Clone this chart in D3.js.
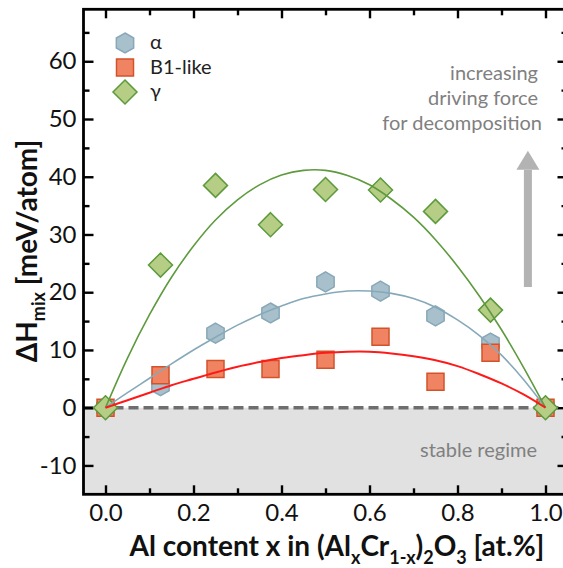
<!DOCTYPE html>
<html>
<head>
<meta charset="utf-8">
<script src="https://cdn.jsdelivr.net/npm/d3@7"></script>
<style>
  body { margin: 0; background: #fff; }
  svg { display: block; font-family: Lato, "Open Sans", sans-serif; }
</style>
</head>
<body>
<div id="chart"></div>
<script>
// Al content in (AlxCr1-x)2O3 and mixing enthalpies [meV/atom]
const alContent = [0, 0.125, 0.25, 0.375, 0.5, 0.625, 0.75, 0.875, 1.0];
const alphaH = [0, 3.8, 12.9, 16.4, 21.8, 20.2, 15.9, 11.2, 0];
const b1H = [0, 5.6, 6.7, 6.7, 8.3, 12.3, 4.5, 9.5, 0];
const gammaH = [0, 24.7, 38.5, 31.7, 37.8, 37.7, 34.0, 16.9, 0];

// fitted curves
const fitX = [0, 0.05, 0.1, 0.15, 0.2, 0.25, 0.3, 0.35, 0.4, 0.45, 0.5,
              0.55, 0.6, 0.65, 0.7, 0.75, 0.8, 0.85, 0.9, 0.95, 1.0];
const alphaFit = [0, 2.6, 5.1, 7.6, 10.0, 12.2, 14.3, 16.1, 17.6, 18.9, 19.7,
                  20.2, 20.2, 19.8, 18.9, 17.4, 15.2, 12.5, 9.1, 4.9, 0];
const b1Fit = [0, 1.3, 2.6, 3.9, 5.0, 6.1, 7.1, 7.9, 8.6, 9.1, 9.5,
               9.7, 9.7, 9.4, 8.9, 8.2, 7.2, 5.8, 4.2, 2.3, 0];
const gammaFit = [0, 8.6, 16.1, 22.6, 28.0, 32.5, 36.0, 38.6, 40.3, 41.1, 41.1,
                  40.2, 38.6, 36.1, 33.0, 29.1, 24.5, 19.3, 13.5, 7.0, 0];

const xMajor = [0, 0.2, 0.4, 0.6, 0.8, 1.0];
const xMinor = [0.1, 0.3, 0.5, 0.7, 0.9];
const yMajor = [-10, 0, 10, 20, 30, 40, 50, 60];
const yMinor = [-5, 5, 15, 25, 35, 45, 55, 65];

const legendLabels = ["α", "B1-like", "γ"];
const noteLines = ["increasing", "driving force", "for decomposition"];

const W = 563, H = 568;
const svg = d3.select("#chart").append("svg").attr("width", W).attr("height", H);

const x = d3.scaleLinear().domain([-0.05, 1.05]).range([83.5, 567.5]);
const y = d3.scaleLinear().domain([-15, 69]).range([494.3, 9.3]);

// stable regime background
svg.append("rect")
    .attr("x", x(-0.05)).attr("y", y(0))
    .attr("width", x(1.05) - x(-0.05)).attr("height", y(-15) - y(0))
    .attr("fill", "#e1e1e1");

svg.append("line")
    .attr("x1", x(-0.05)).attr("x2", x(1.05))
    .attr("y1", y(0)).attr("y2", y(0))
    .attr("stroke", "#6e6e6e").attr("stroke-width", 3.5)
    .attr("stroke-dasharray", "10,5");

// axes
function styleAxis(g) {
    g.select(".domain").remove();
    g.selectAll(".tick line").attr("stroke", "#000").attr("stroke-width", 2.4);
    g.selectAll(".tick text").attr("fill", "#111").style("font-size", "24px")
        .style("font-family", "Lato, sans-serif");
}

svg.append("g").attr("transform", `translate(0,${y(-15)})`)
    .call(d3.axisBottom(x).tickValues(xMajor).tickSize(-9).tickPadding(10)
        .tickFormat(d3.format(".1f")))
    .call(styleAxis);
svg.append("g").attr("transform", `translate(0,${y(-15)})`)
    .call(d3.axisBottom(x).tickValues(xMinor).tickSize(-6).tickFormat(""))
    .call(styleAxis);
svg.append("g").attr("transform", `translate(0,${y(69)})`)
    .call(d3.axisTop(x).tickValues(xMajor).tickSize(-9).tickFormat(""))
    .call(styleAxis);
svg.append("g").attr("transform", `translate(0,${y(69)})`)
    .call(d3.axisTop(x).tickValues(xMinor).tickSize(-6).tickFormat(""))
    .call(styleAxis);

svg.append("g").attr("transform", `translate(${x(-0.05)},0)`)
    .call(d3.axisLeft(y).tickValues(yMajor).tickSize(-10).tickPadding(7)
        .tickFormat(d => String(d)))
    .call(styleAxis);
svg.append("g").attr("transform", `translate(${x(-0.05)},0)`)
    .call(d3.axisLeft(y).tickValues(yMinor).tickSize(-6).tickFormat(""))
    .call(styleAxis);
svg.append("g").attr("transform", `translate(${x(1.05)},0)`)
    .call(d3.axisRight(y).tickValues(yMajor).tickSize(-10).tickFormat(""))
    .call(styleAxis);
svg.append("g").attr("transform", `translate(${x(1.05)},0)`)
    .call(d3.axisRight(y).tickValues(yMinor).tickSize(-6).tickFormat(""))
    .call(styleAxis);

// frame
svg.append("rect")
    .attr("x", x(-0.05)).attr("y", y(69))
    .attr("width", x(1.05) - x(-0.05)).attr("height", y(-15) - y(69))
    .attr("fill", "none").attr("stroke", "#000").attr("stroke-width", 2.8);

// marker shapes
const hexPath = (() => {
    const r = 10;
    const pts = d3.range(6).map(i => {
        const a = Math.PI / 3 * i - Math.PI / 2;
        return [r * Math.cos(a), r * Math.sin(a)];
    });
    return "M" + pts.map(p => p.join(",")).join("L") + "Z";
})();
const sqPath = "M-8.5,-8.5L8.5,-8.5L8.5,8.5L-8.5,8.5Z";
const diaPath = "M0,-12L12,0L0,12L-12,0Z";

const series = [
    { vals: alphaH, path: hexPath, fill: "#a8c0cc", stroke: "#88a8b8" },
    { vals: b1H, path: sqPath, fill: "#f08462", stroke: "#d2532b" },
    { vals: gammaH, path: diaPath, fill: "#b5cd85", stroke: "#5c9a3b" }
];

series.forEach(s => {
    svg.append("g").selectAll("path")
        .data(alContent.map((c, i) => [c, s.vals[i]]))
        .join("path")
        .attr("d", s.path)
        .attr("transform", d => `translate(${x(d[0])},${y(d[1])})`)
        .attr("fill", s.fill).attr("stroke", s.stroke).attr("stroke-width", 1.5);
});

// fit curves
const line = d3.line().x(d => x(d[0])).y(d => y(d[1])).curve(d3.curveCatmullRom);
const fits = [
    { vals: alphaFit, color: "#86a9ba", w: 1.6 },
    { vals: gammaFit, color: "#5e9a3e", w: 1.6 },
    { vals: b1Fit, color: "#ff1a1a", w: 2 }
];
fits.forEach(f => {
    svg.append("path")
        .datum(fitX.map((c, i) => [c, f.vals[i]]))
        .attr("d", line)
        .attr("fill", "none").attr("stroke", f.color).attr("stroke-width", f.w);
});

// legend
const legend = svg.append("g").attr("transform", "translate(125,43)");
series.forEach((s, i) => {
    const row = legend.append("g").attr("transform", `translate(0,${i * 24.5})`);
    row.append("path").attr("d", s.path)
        .attr("fill", s.fill).attr("stroke", s.stroke).attr("stroke-width", 1.5);
    row.append("text").attr("x", 25).attr("y", 6)
        .attr("fill", "#222").style("font-size", "20px")
        .text(legendLabels[i]);
});

// annotations
noteLines.forEach((t, i) => {
    svg.append("text")
        .attr("x", i === 2 ? 542 : 538).attr("y", 80 + i * 25)
        .attr("text-anchor", "end")
        .attr("fill", "#808080").style("font-size", "20px")
        .text(t);
});

svg.append("text")
    .attr("x", 537).attr("y", 457)
    .attr("text-anchor", "end")
    .attr("fill", "#808080").style("font-size", "20px")
    .text("stable regime");

// arrow
const arrowX = 0.96;
svg.append("rect")
    .attr("x", x(arrowX) - 4).attr("y", y(44.5) + 19)
    .attr("width", 8).attr("height", y(20.9) - y(44.5) - 19)
    .attr("fill", "#b3b3b3");
svg.append("path")
    .attr("d", `M${x(arrowX) - 11.5},${y(44.5) + 19}L${x(arrowX) + 11.5},${y(44.5) + 19}L${x(arrowX)},${y(44.5)}Z`)
    .attr("fill", "#b3b3b3");

// axis titles
const xt = svg.append("text")
    .attr("x", 337).attr("y", 556)
    .attr("text-anchor", "middle")
    .attr("fill", "#111").style("font-size", "28px").style("font-weight", "bold");
xt.append("tspan").text("Al content x in (Al");
xt.append("tspan").attr("dy", 8).style("font-size", "18px").text("x");
xt.append("tspan").attr("dy", -8).text("Cr");
xt.append("tspan").attr("dy", 8).style("font-size", "18px").text("1-x");
xt.append("tspan").attr("dy", -8).text(")");
xt.append("tspan").attr("dy", 8).style("font-size", "18px").text("2");
xt.append("tspan").attr("dy", -8).text("O");
xt.append("tspan").attr("dy", 8).style("font-size", "18px").text("3");
xt.append("tspan").attr("dy", -8).text(" [at.%]");

const yt = svg.append("text")
    .attr("transform", `translate(37,251) rotate(-90)`)
    .attr("text-anchor", "middle")
    .attr("fill", "#111").style("font-size", "28px").style("font-weight", "bold");
yt.append("tspan").text("ΔH");
yt.append("tspan").attr("dy", 8).style("font-size", "18px").text("mix");
yt.append("tspan").attr("dy", -8).text(" [meV/atom]");
</script>
</body>
</html>
